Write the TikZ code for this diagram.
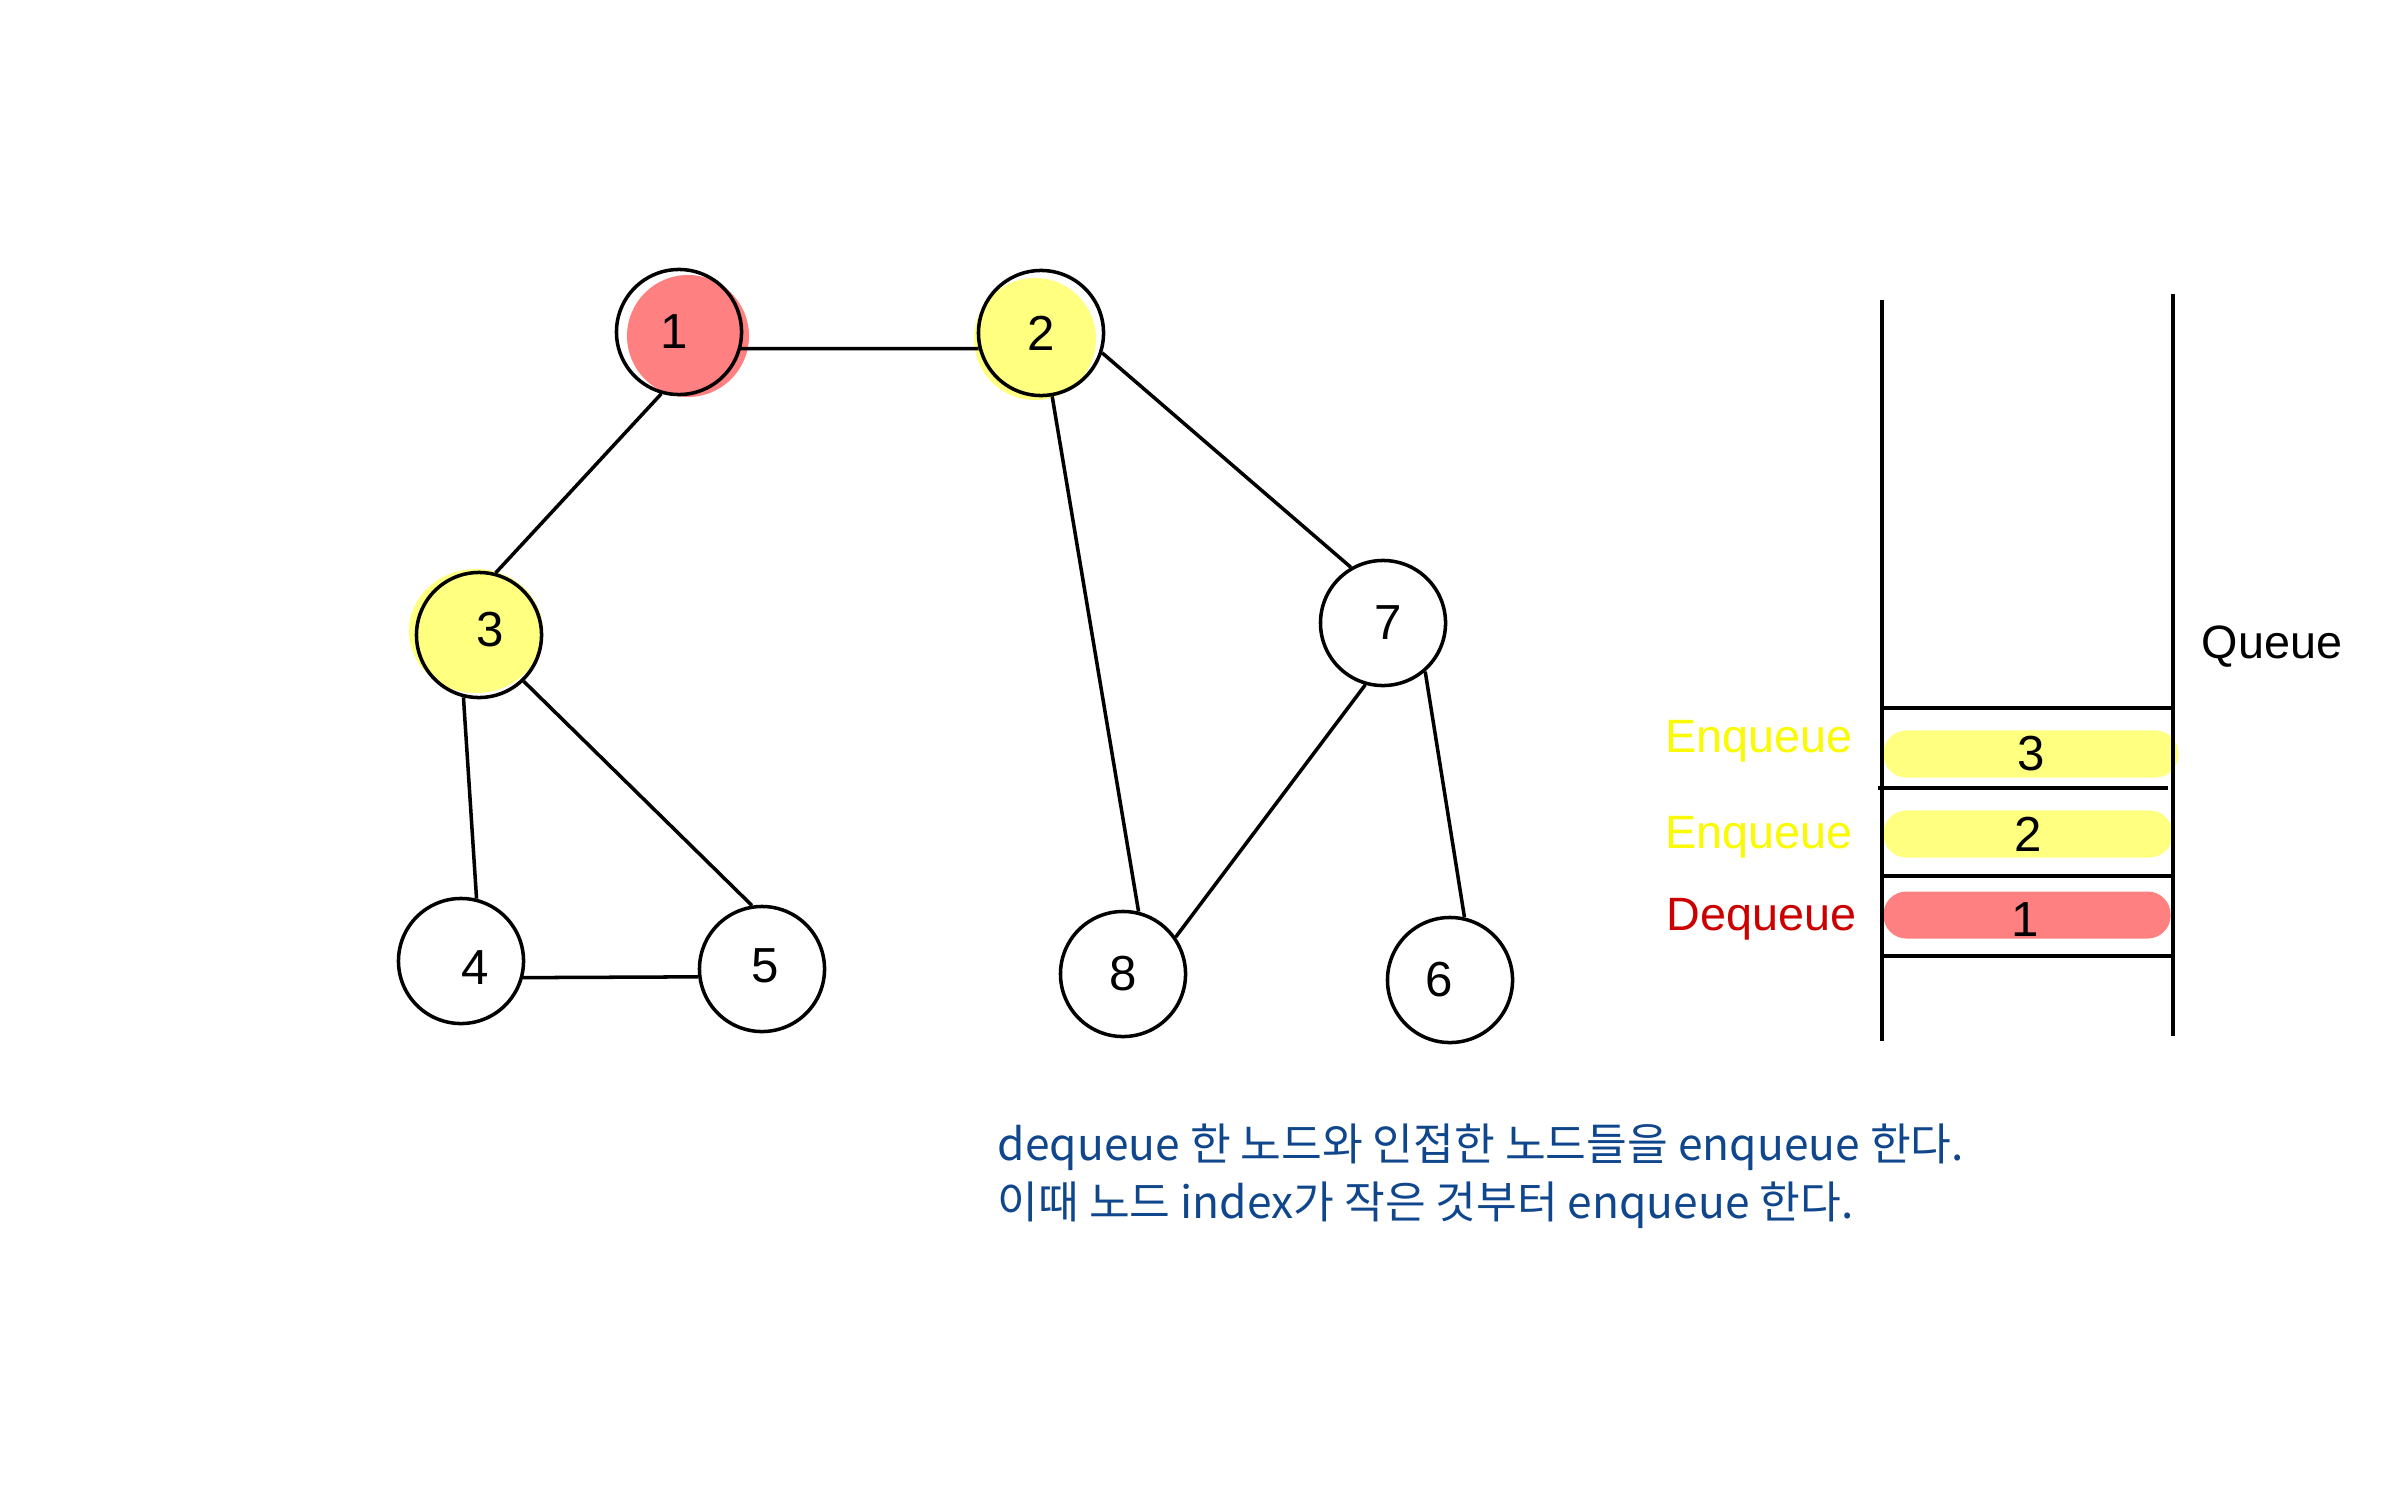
\documentclass[tikz,border=0pt]{standalone}
\usepackage{fontspec}
\setmainfont{Liberation Sans}
\newfontfamily\kr{Noto Sans CJK KR}
\definecolor{nred}{RGB}{255,128,128}
\definecolor{nyel}{RGB}{255,255,128}
\definecolor{tyel}{RGB}{250,250,0}
\definecolor{tred}{RGB}{204,0,0}
\definecolor{tblue}{RGB}{16,70,140}
\begin{document}
\begin{tikzpicture}[x=0.01cm,y=-0.01cm,
  every label/.style={font=\fontsize{14}{16}\selectfont},
  vert/.style={circle, draw, line width=1pt, minimum size=1.25cm, inner sep=0pt},
  edge/.style={line width=1pt},
  qline/.style={line width=1pt},
  pill/.style={rounded corners=0.23cm, minimum height=0.47cm, inner sep=0pt, font=\fontsize{14}{16}\selectfont},
  qlab/.style={anchor=west, inner sep=0pt, font=\fontsize{13.3}{15}\selectfont}]
\useasboundingbox (0,0) rectangle (2386,1491);
% highlight blobs
\fill[nred] (688,336) circle[radius=61];
\fill[nyel] (1035,339) circle[radius=61];
\fill[nyel] (476,631) ellipse[x radius=67, y radius=62];
% vertices
\node[vert, label={[shift={(-5,0)}]center:1}] (n1) at (679,332) {};
\node[vert, label={center:2}] (n2) at (1041,333) {};
\node[vert, label={[shift={(11,-5)}]center:3}] (n3) at (479,635) {};
\node[vert, label={[shift={(14,7)}]center:4}] (n4) at (461,961) {};
\node[vert, label={[shift={(3,-3)}]center:5}] (n5) at (762,969) {};
\node[vert, label={[shift={(-11,0)}]center:6}] (n6) at (1450,980) {};
\node[vert, label={[shift={(5,0)}]center:7}] (n7) at (1383,623) {};
\node[vert, label={center:8}] (n8) at (1123,974) {};
% edges
\draw[edge] (n1.-15) -- (n2.-166);
\draw[edge] (n1.-106) -- (n3.75);
\draw[edge] (n2.-80) -- (n8.76);
\draw[edge] (n2.-18) -- (n7.120);
\draw[edge] (n3.-104) -- (n4.76);
\draw[edge] (n3.-46) -- (n5.99);
\draw[edge] (n4.-15) -- (n5.-173);
\draw[edge] (n7.-106) -- (n8.35);
\draw[edge] (n7.-49) -- (n6.77);
% queue
\node[pill, fill=nyel, minimum width=2.95cm] (p3) at (2031,754) {3};
\node[pill, fill=nyel, minimum width=2.89cm] (p2) at (2028,834) {2};
\node[pill, fill=nred, minimum width=2.87cm, label={[shift={(-2,5)}]center:1}] (p1) at (2027,915) {};
\draw[qline] (1882,300) -- (1882,1041);
\draw[qline] (2173,294) -- (2173,1036);
\draw[qline] (1882,708) -- (2173,708);
\draw[qline] (1878,788) -- (2168,788);
\draw[qline] (1882,876) -- (2173,876);
\draw[qline] (1882,956) -- (2173,956);
\node[qlab] (lq) at (2201,647) {Queue};
\node[qlab, text=tyel] (le1) at (1665,741) {Enqueue};
\node[qlab, text=tyel] (le2) at (1665,837) {Enqueue};
\node[qlab, text=tred] (ld) at (1666,919) {Dequeue};
% caption
\node[anchor=west, align=left, inner sep=0pt, text=tblue, font=\kr\fontsize{12.6}{16.5}\selectfont] (cap) at (997,1176)
  {dequeue 한 노드와 인접한 노드들을 enqueue 한다.\\이때 노드 index가 작은 것부터 enqueue 한다.};
\end{tikzpicture}
\end{document}
